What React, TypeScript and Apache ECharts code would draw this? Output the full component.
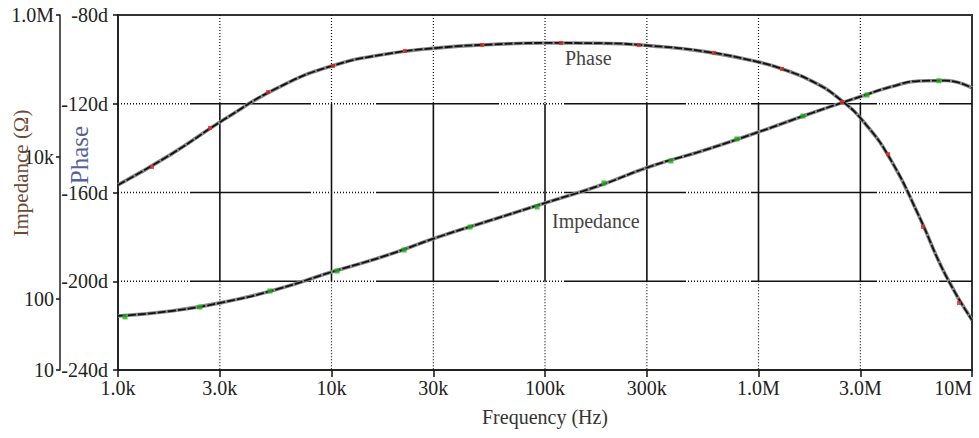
import React, { useEffect, useRef } from "react";
import * as echarts from "echarts";

// ---- data ----
const xTickFreqs = [1e3, 3e3, 1e4, 3e4, 1e5, 3e5, 1e6, 3e6, 1e7];
const xTickLabels = ["1.0k", "3.0k", "10k", "30k", "100k", "300k", "1.0M", "3.0M", "10M"];
const phaseTicks = [-240, -200, -160, -120, -80];
const impTickValues = [10, 100, 10000, 1000000];
const impTickLabels = ["10", "100", "10k", "1.0M"];

const phaseFreq = [1000, 1778, 3162, 5623, 10000, 17783, 31623, 56234, 100000, 177828, 316228, 562341, 1000000, 1333521, 1778279, 2371374, 3162278, 4216965, 5623413, 7498942, 10000000];
const phaseDeg = [-156.6, -142.7, -126.9, -112.7, -103, -97.7, -94.8, -93.3, -92.6, -92.7, -93.9, -96.5, -101.2, -104.8, -109.8, -117.5, -129, -146.2, -170.3, -197, -217.5];

const impFreq = [1000, 1778, 3162, 5623, 10000, 17783, 31623, 56234, 100000, 177828, 316228, 562341, 1000000, 1778279, 3162278, 4216965, 5623413, 7498942, 10000000];
const impOhm = [57.7, 67.8, 90.8, 138.4, 239.9, 403.6, 746.4, 1297, 2249, 3908, 7464, 12560, 22490, 41690, 74650, 98400, 117500, 119400, 93760];

const phaseMarkFreq = [1442, 2698, 5047, 10160, 22080, 50700, 118900, 275400, 619400, 1288000, 2460000, 4046000, 5888000, 8690000];
const phaseMarkDeg = [-148.5, -130.9, -114.7, -103.0, -96.2, -93.5, -92.6, -93.5, -97.1, -104.3, -119.2, -142.7, -175.5, -209.8];

const impMarkFreq = [1079, 2421, 5152, 10620, 21880, 44570, 91830, 188800, 389000, 792500, 1614000, 3221000, 6998000];
const impMarkOhm = [56, 77.1, 129.7, 247.7, 489.8, 1033, 1977, 4305, 8790, 17950, 37760, 74650, 118500];

const FONT = "Liberation Serif";
const lg = Math.log10;

function dotted(len: number): number[] {
  const a: number[] = [];
  for (let i = 0; i < Math.round(len / 3); i++) a.push(1, 2);
  return a;
}
const hDash = [
  ...dotted(72), 121, 2,
  ...dotted(63), 123, 2,
  ...dotted(63), 122, 2,
  ...dotted(63), 126, 2,
  ...dotted(60), 60, 0,
];

function nearestLabel(v: number, vals: number[], labels: string[]) {
  let best = 0;
  for (let i = 1; i < vals.length; i++) if (Math.abs(vals[i] - v) < Math.abs(vals[best] - v)) best = i;
  return labels[best];
}

export default function App() {
  const ref = useRef<HTMLDivElement>(null);
  useEffect(() => {
    if (!ref.current) return;
    const chart = echarts.init(ref.current, undefined, { renderer: "svg" });
    const xTickLogs = xTickFreqs.map(lg);
    const impTickLogs = impTickValues.map(lg);
    const innerX = xTickLogs.slice(1, -1);
    const innerPhase = phaseTicks.slice(1, -1);
    const pMin = phaseTicks[0];
    const pMax = phaseTicks[phaseTicks.length - 1];

    const textBase = { fontFamily: FONT, fontSize: 20, color: "#222" };
    const curveSmooth = 0.5;

    chart.setOption({
      animation: false,
      backgroundColor: "#fff",
      grid: {
        left: 118, right: 7, top: 15, bottom: 68,
        containLabel: false, outerBoundsMode: "none",
        show: true, borderColor: "#333", borderWidth: 2,
      },
      xAxis: {
        type: "value",
        min: xTickLogs[0],
        max: xTickLogs[xTickLogs.length - 1],
        axisLine: { show: true, lineStyle: { color: "#222", width: 2 } },
        axisTick: { show: true, length: 7, customValues: xTickLogs, lineStyle: { color: "#111", width: 1.5 } },
        axisLabel: {
          customValues: xTickLogs,
          margin: 8,
          alignMaxLabel: "right",
          ...textBase,
          formatter: (v: number) => nearestLabel(v, xTickLogs, xTickLabels),
        },
        splitLine: { show: false },
        name: "Frequency (Hz)",
        nameLocation: "middle",
        nameGap: 37,
        nameTextStyle: { ...textBase, color: "#333" },
      },
      yAxis: [
        {
          type: "value",
          min: pMin,
          max: pMax,
          interval: 40,
          position: "left",
          axisLine: { show: true, lineStyle: { color: "#222", width: 1.5 } },
          axisTick: { show: true, length: 5, lineStyle: { color: "#111", width: 1.5 } },
          axisLabel: { margin: 10, ...textBase, formatter: (v: number) => `${v}d` },
          splitLine: { show: false },
        },
        {
          type: "value",
          min: impTickLogs[0],
          max: impTickLogs[impTickLogs.length - 1],
          position: "left",
          offset: 58,
          axisLine: { show: true, lineStyle: { color: "#222", width: 1.5 } },
          axisTick: { show: true, length: 4, customValues: impTickLogs, lineStyle: { color: "#111", width: 1.5 } },
          axisLabel: {
            customValues: impTickLogs,
            margin: 6,
            ...textBase,
            formatter: (v: number) => nearestLabel(v, impTickLogs, impTickLabels),
          },
          splitLine: { show: false },
        },
      ],
      graphic: [
        {
          type: "text",
          x: 21,
          y: 173,
          rotation: Math.PI / 2,
          style: { text: "Impedance (Ω)", font: `21px "${FONT}"`, fill: "#6e4a35", align: "center", verticalAlign: "middle" },
        },
        {
          type: "text",
          x: 79,
          y: 155,
          rotation: Math.PI / 2,
          style: { text: "Phase", font: `25px "${FONT}"`, fill: "#56639a", align: "center", verticalAlign: "middle" },
        },
        {
          type: "text",
          x: 565,
          y: 58,
          style: { text: "Phase", font: `20px "${FONT}"`, fill: "#444", align: "left", verticalAlign: "middle" },
          z: 10,
        },
        {
          type: "text",
          x: 552,
          y: 221,
          style: { text: "Impedance", font: `20px "${FONT}"`, fill: "#444", align: "left", verticalAlign: "middle" },
          z: 10,
        },
      ],
      series: [
        {
          type: "custom",
          name: "vgrid",
          xAxisIndex: 0,
          yAxisIndex: 0,
          z: 1,
          silent: true,
          data: innerX.map((x) => [x, pMax]),
          renderItem: (params: any, api: any) => {
            const x = api.value(0);
            const a = api.coord([x, pMax]);
            const b = api.coord([x, innerPhase[innerPhase.length - 1]]);
            const c = api.coord([x, innerPhase[0]]);
            const d = api.coord([x, pMin]);
            return {
              type: "group",
              children: [
                { type: "line", shape: { x1: a[0], y1: a[1], x2: b[0], y2: b[1] }, style: { stroke: "#111", lineWidth: 1.2, lineDash: [1, 2] } },
                { type: "line", shape: { x1: b[0], y1: b[1], x2: c[0], y2: c[1] }, style: { stroke: "#111", lineWidth: 1.6 } },
                { type: "line", shape: { x1: c[0], y1: c[1], x2: d[0], y2: d[1] }, style: { stroke: "#111", lineWidth: 1.2, lineDash: [1, 2] } },
              ],
            };
          },
        },
        {
          type: "custom",
          name: "hgrid",
          xAxisIndex: 0,
          yAxisIndex: 0,
          z: 1,
          silent: true,
          data: innerPhase.map((p) => [xTickLogs[0], p]),
          renderItem: (params: any, api: any) => {
            const p = api.value(1);
            const a = api.coord([xTickLogs[0], p]);
            const b = api.coord([xTickLogs[xTickLogs.length - 1], p]);
            return {
              type: "line",
              shape: { x1: a[0], y1: a[1], x2: b[0], y2: b[1] },
              style: { stroke: "#111", lineWidth: 1.6, lineDash: hDash },
            };
          },
        },
        {
          type: "line",
          name: "Phase halo",
          yAxisIndex: 0,
          data: phaseFreq.map((f, i) => [lg(f), phaseDeg[i]]),
          smooth: curveSmooth,
          showSymbol: false,
          silent: true,
          z: 3,
          lineStyle: { color: "#8a8a8a", width: 3.6 },
        },
        {
          type: "line",
          name: "Phase",
          yAxisIndex: 0,
          data: phaseFreq.map((f, i) => [lg(f), phaseDeg[i]]),
          smooth: curveSmooth,
          showSymbol: false,
          z: 4,
          lineStyle: { color: "#111", width: 1.8, type: [8, 2] },
        },
        {
          type: "line",
          name: "Impedance halo",
          yAxisIndex: 1,
          data: impFreq.map((f, i) => [lg(f), lg(impOhm[i])]),
          smooth: curveSmooth,
          showSymbol: false,
          silent: true,
          z: 3,
          lineStyle: { color: "#8a8a8a", width: 3.6 },
        },
        {
          type: "line",
          name: "Impedance",
          yAxisIndex: 1,
          data: impFreq.map((f, i) => [lg(f), lg(impOhm[i])]),
          smooth: curveSmooth,
          showSymbol: false,
          z: 4,
          lineStyle: { color: "#111", width: 1.8, type: [8, 2] },
        },
        {
          type: "scatter",
          name: "Phase markers",
          yAxisIndex: 0,
          data: phaseMarkFreq.map((f, i) => [lg(f), phaseMarkDeg[i]]),
          symbol: "rect",
          symbolSize: 4,
          itemStyle: { color: "#e3261f" },
          z: 5,
        },
        {
          type: "scatter",
          name: "Impedance markers",
          yAxisIndex: 1,
          data: impMarkFreq.map((f, i) => [lg(f), lg(impMarkOhm[i])]),
          symbol: "rect",
          symbolSize: 5,
          itemStyle: { color: "#1db31d" },
          z: 5,
        },
      ],
    });
    return () => chart.dispose();
  }, []);

  return (
    <div
      ref={ref}
      style={{ position: "absolute", left: 0, top: 0, width: 979, height: 438, background: "#fff" }}
    />
  );
}
